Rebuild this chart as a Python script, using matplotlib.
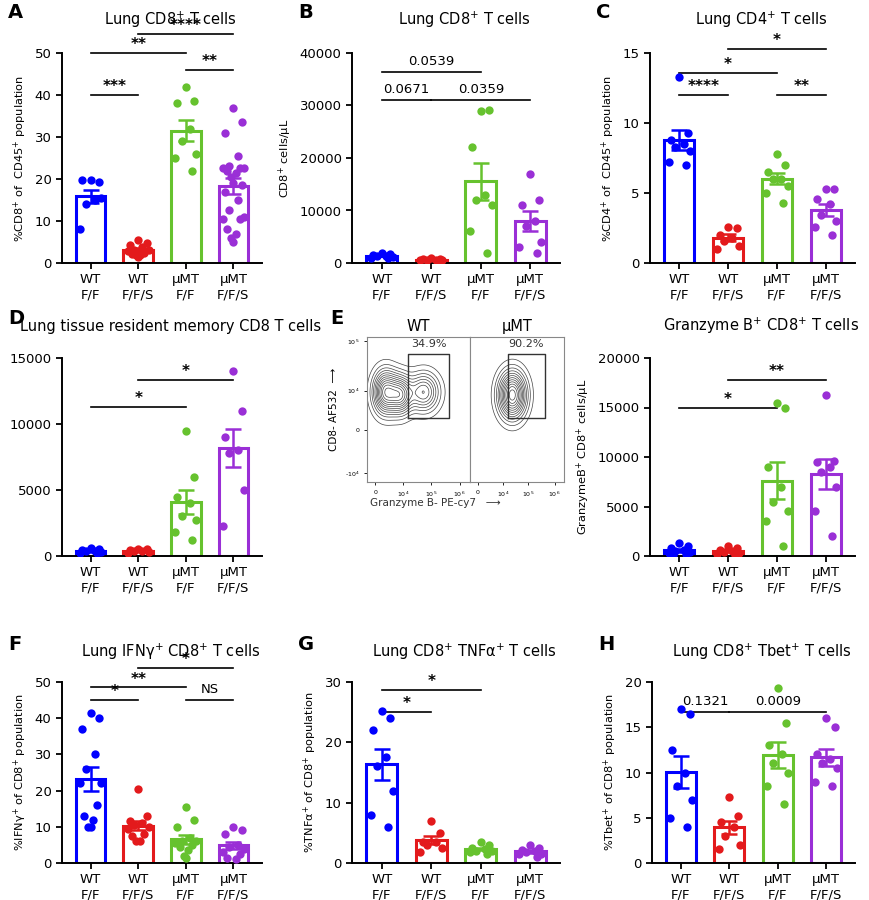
import matplotlib
matplotlib.use("Agg")
import matplotlib.pyplot as plt
import numpy as np

plt.rcParams['font.family'] = ['DejaVu Sans']
plt.rcParams['font.size'] = 9

groups = ["WT\nF/F", "WT\nF/F/S", "μMT\nF/F", "μMT\nF/F/S"]
colors = ["#0000FF", "#E31A1C", "#66C22E", "#9A2FD6"]

A_vals = [
    [19.7, 19.3, 19.7, 15.0, 14.0, 15.5, 8.0],
    [5.5, 4.8, 4.2, 3.8, 3.2, 3.0, 2.8, 2.5, 2.2, 2.0, 1.8, 1.5],
    [42, 38.5, 38, 32, 29, 26, 25, 21.8],
    [37, 33.5, 31, 25.5, 23, 22.5, 22.5, 22.5, 22, 21.5, 20.5, 19, 18.5, 17, 15, 12.5, 11, 10.5, 10.5, 8, 7, 6, 5],
]
B_vals = [
    [1900, 1700, 1500, 1400, 1300, 1200, 1000, 900],
    [900, 800, 700, 650, 600, 550, 500, 450],
    [29000, 29200, 22000, 13000, 12000, 11000, 6000, 2000],
    [17000, 12000, 11000, 8000, 7000, 4000, 3000, 2000],
]
C_vals = [
    [13.3, 9.3, 8.8, 8.5, 8.3, 8.0, 7.2, 7.0],
    [2.6, 2.5, 2.0, 1.8, 1.6, 1.2, 1.0],
    [7.8, 7.0, 6.5, 6.0, 6.0, 5.5, 5.0, 4.3],
    [5.3, 5.3, 4.6, 4.2, 3.4, 3.0, 2.6, 2.0],
]
D_vals = [
    [600, 500, 450, 400, 350, 300, 250, 200],
    [550, 500, 450, 400, 350, 300, 250],
    [9500, 6000, 4500, 4000, 3000, 2700, 1800, 1200],
    [14000, 11000, 9000, 8000, 7800, 5000, 2300],
]
E_vals = [
    [1300, 1000, 800, 600, 500, 400, 300, 200, 100],
    [1000, 800, 600, 500, 400, 300, 200, 100],
    [15500, 15000, 9000, 7000, 5500, 4500, 3500, 1000],
    [16300, 9600, 9500, 9000, 8500, 7000, 4500, 2000],
]
F_vals = [
    [41.5, 40, 37, 30, 26, 22, 22, 16, 13, 12, 10, 10],
    [20.5, 13, 11.5, 11, 10.5, 10, 9.5, 8, 7.5, 6, 6],
    [15.5, 12, 10, 7, 6, 6, 5.5, 5, 4.5, 3.5, 2, 1.5],
    [10, 9, 8, 5, 4.5, 4, 3, 2.5, 1.5, 1],
]
G_vals = [
    [25.2, 24, 22, 17.5, 16, 12, 8, 6],
    [7, 5, 3.5, 3.5, 3, 2.5, 1.8],
    [3.5, 3, 2.5, 2.3, 2, 2, 1.8, 1.5],
    [3, 2.5, 2.2, 2, 1.8, 1.5, 1.5, 1],
]
H_vals = [
    [17, 16.5, 12.5, 10, 8.5, 7, 5, 4],
    [7.3, 5.2, 4.5, 4, 3, 2, 1.5],
    [19.3, 15.5, 13, 12, 11, 10, 8.5, 6.5],
    [16, 15, 12, 11.5, 11, 10.5, 9, 8.5],
]

panels = [
    dict(L="A", vals=A_vals, title="Lung CD8$^{+}$ T cells", ylab="%CD8$^{+}$ of  CD45$^{+}$ population",
         ylim=50, ticks=[0, 10, 20, 30, 40, 50],
         ann=[(0, 1, 40, "***"), (0, 2, 50, "**"), (1, 3, 54.5, "****"), (2, 3, 46, "**")],
         rect=[62, 53, 262, 263], ty=20),
    dict(L="B", vals=B_vals, title="Lung CD8$^{+}$ T cells", ylab="CD8$^{+}$ cells/μL",
         ylim=40000, ticks=[0, 10000, 20000, 30000, 40000],
         ann=[(0, 1, 31000, "0.0671"), (0, 2, 36400, "0.0539"), (1, 3, 31000, "0.0359")],
         rect=[352, 53, 560, 263], ty=20),
    dict(L="C", vals=C_vals, title="Lung CD4$^{+}$ T cells", ylab="%CD4$^{+}$ of  CD45$^{+}$ population",
         ylim=15, ticks=[0, 5, 10, 15],
         ann=[(0, 1, 12, "****"), (0, 2, 13.6, "*"), (1, 3, 15.3, "*"), (2, 3, 12, "**")],
         rect=[650, 53, 855, 263], ty=20),
    dict(L="D", vals=D_vals, title="Lung tissue resident memory CD8 T cells",
         ylab="CD69$^{+}$ CD103$^{hi}$ CD8$^{+}$ cells/μL",
         ylim=15000, ticks=[0, 5000, 10000, 15000],
         ann=[(0, 2, 11300, "*"), (1, 3, 13300, "*")],
         rect=[62, 358, 262, 556], ty=326),
    dict(L="", vals=E_vals, title="Granzyme B$^{+}$ CD8$^{+}$ T cells", ylab="GranzymeB$^{+}$ CD8$^{+}$ cells/μL",
         ylim=20000, ticks=[0, 5000, 10000, 15000, 20000],
         ann=[(0, 2, 15000, "*"), (1, 3, 17800, "**")],
         rect=[650, 358, 855, 556], ty=326),
    dict(L="F", vals=F_vals, title="Lung IFNγ$^{+}$ CD8$^{+}$ T cells", ylab="%IFNγ$^{+}$ of CD8$^{+}$ population",
         ylim=50, ticks=[0, 10, 20, 30, 40, 50],
         ann=[(0, 1, 45, "*"), (0, 2, 48.5, "**"), (1, 3, 54, "*"), (2, 3, 45, "NS")],
         rect=[62, 682, 262, 863], ty=652),
    dict(L="G", vals=G_vals, title="Lung CD8$^{+}$ TNFα$^{+}$ T cells", ylab="%TNFα$^{+}$ of CD8$^{+}$ population",
         ylim=30, ticks=[0, 10, 20, 30],
         ann=[(0, 1, 25, "*"), (0, 2, 28.7, "*")],
         rect=[352, 682, 560, 863], ty=652),
    dict(L="H", vals=H_vals, title="Lung CD8$^{+}$ Tbet$^{+}$ T cells", ylab="%Tbet$^{+}$ of CD8$^{+}$ population",
         ylim=20, ticks=[0, 5, 10, 15, 20],
         ann=[(0, 1, 16.7, "0.1321"), (1, 3, 16.7, "0.0009")],
         rect=[652, 682, 855, 863], ty=652),
]

W, H = 870, 900
fig = plt.figure(figsize=(8.7, 9), dpi=100)

def rect_to_ax(r):
    x0, y0, x1, y1 = r
    return fig.add_axes([x0 / W, 1 - y1 / H, (x1 - x0) / W, (y1 - y0) / H])

def jitter(n, w=0.22):
    if n == 1:
        return np.zeros(1)
    pat = np.array([0, 0.8, -0.8, 0.4, -0.4, 1.0, -1.0, 0.6, -0.6, 0.2, -0.2])
    return np.array([pat[i % len(pat)] for i in range(n)]) * w

for p in panels:
    ax = rect_to_ax(p["rect"])
    for i, v in enumerate(p["vals"]):
        v = np.array(v, float)
        m = v.mean()
        se = v.std(ddof=1) / np.sqrt(len(v))
        ax.bar(i, m, width=0.62, facecolor="white", edgecolor=colors[i], linewidth=2.2, zorder=1)
        ax.scatter(i + jitter(len(v)), v, s=36, color=colors[i], zorder=3, linewidths=0)
        ax.errorbar(i, m, yerr=se, color=colors[i], capsize=6, capthick=1.8, elinewidth=1.8, zorder=4)
    ax.set_xlim(-0.6, 3.6)
    ax.set_ylim(0, p["ylim"])
    ax.set_yticks(p["ticks"])
    ax.set_xticks(range(4))
    ax.set_xticklabels(groups, fontsize=10)
    ax.set_ylabel(p["ylab"], fontsize=8.2)
    ax.tick_params(labelsize=9.5, width=1.3, length=4)
    for s in ["top", "right"]:
        ax.spines[s].set_visible(False)
    for s in ["left", "bottom"]:
        ax.spines[s].set_linewidth(1.4)
    for a, b, y, t in p["ann"]:
        ax.plot([a, b], [y, y], color="black", lw=1.2, clip_on=False)
        if t.startswith("*"):
            ax.text((a + b) / 2, y + p["ylim"] * 0.005, t, ha="center", va="bottom", fontsize=11, fontweight="bold")
        else:
            ax.text((a + b) / 2, y + p["ylim"] * 0.02, t, ha="center", va="bottom", fontsize=9.5)
    x0, y0, x1, y1 = p["rect"]
    fig.text((x0 + x1) / 2 / W + 0.01, 1 - p["ty"] / H, p["title"], fontsize=10.5, ha="center", va="center")
    if p["L"]:
        fig.text(x0 / W - 0.062, 1 - p["ty"] / H + 0.008, p["L"], fontsize=14,
                 fontweight="bold", va="center")

# Panel E flow contour plots
flow_labels = ["WT", "μMT"]
flow_pct = ["34.9%", "90.2%"]
flow_pops = [
    [(0.18, 0.62, 0.08, 0.10, 1.0), (0.33, 0.60, 0.07, 0.09, 0.8), (0.55, 0.62, 0.10, 0.09, 0.7)],
    [(0.45, 0.60, 0.10, 0.11, 1.0)],
]
flow_gate = [(0.40, 0.44, 0.80, 0.88), (0.40, 0.44, 0.80, 0.88)]
xs = np.linspace(0, 1, 200)
X, Y = np.meshgrid(xs, xs)
fig.text(330 / W, 1 - 326 / H + 0.008, "E", fontsize=14, fontweight="bold", va="center")
for k, (x0, x1) in enumerate([(367, 470), (470, 564)]):
    ax = rect_to_ax([x0, 337, x1, 482])
    Z = np.zeros_like(X)
    for cx, cy, sx, sy, a in flow_pops[k]:
        Z += a * np.exp(-(((X - cx) / sx) ** 2 + ((Y - cy) / sy) ** 2) / 2)
    ax.contour(X, Y, Z, levels=np.linspace(0.08, Z.max() * 0.95, 12), colors="#444444", linewidths=0.5)
    gx0, gy0, gx1, gy1 = flow_gate[k]
    ax.plot([gx0, gx1, gx1, gx0, gx0], [gy0, gy0, gy1, gy1, gy0], color="#333333", lw=1)
    ax.text((gx0 + gx1) / 2, 0.92, flow_pct[k], ha="center", va="bottom", fontsize=8, color="#333333")
    ax.set_xlim(0, 1); ax.set_ylim(0, 1)
    ax.set_title(flow_labels[k], fontsize=10.5, pad=4)
    ax.set_xticks([0.08, 0.35, 0.62, 0.9])
    ax.set_xticklabels(["0", "10$^4$", "10$^5$", "10$^6$"], fontsize=4.5)
    if k == 0:
        ax.set_yticks([0.06, 0.36, 0.63, 0.97])
        ax.set_yticklabels(["-10$^4$", "0", "10$^4$", "10$^5$"], fontsize=4.5)
        ax.set_ylabel("CD8- AF532  ⟶", fontsize=7.5)
    else:
        ax.set_yticks([])
    ax.tick_params(length=2, width=0.6)
    for s in ax.spines.values():
        s.set_color("#888888"); s.set_linewidth(0.8)
fig.text(370 / W, 1 - 506 / H, "Granzyme B- PE-cy7   ⟶", fontsize=7.5, color="#333333")

fig.savefig("out.png", dpi=100)
